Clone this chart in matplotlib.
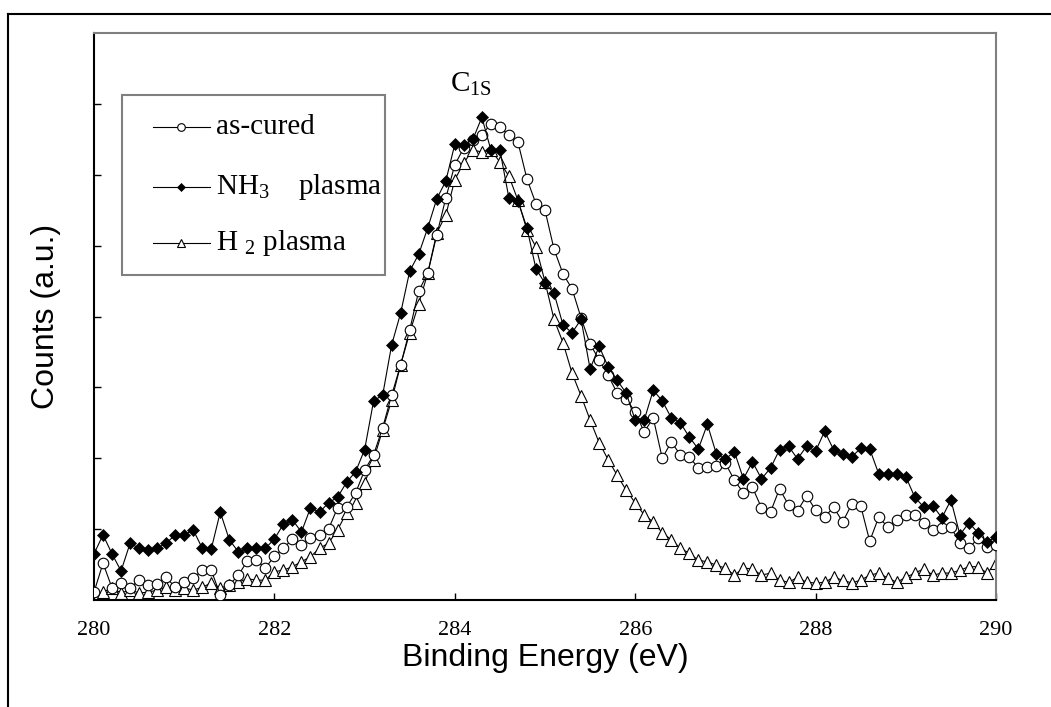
import numpy as np
import matplotlib
matplotlib.use("Agg")
import matplotlib.pyplot as plt
from matplotlib.lines import Line2D
from matplotlib.patches import Rectangle

plt.rcParams['mathtext.fontset'] = 'custom'
plt.rcParams['mathtext.rm'] = 'Liberation Serif'
plt.rcParams['mathtext.it'] = 'Liberation Serif'

# Binding energy grid (eV)
energy = [round(280.0 + 0.1 * i, 1) for i in range(101)]

as_cured = [
    0.11, 0.52, 0.17, 0.24, 0.17, 0.28, 0.21, 0.23, 0.32, 0.18,
    0.25, 0.31, 0.42, 0.42, 0.07, 0.21, 0.35, 0.55, 0.56, 0.45,
    0.62, 0.73, 0.86, 0.78, 0.87, 0.92, 1.00, 1.30, 1.31, 1.51,
    1.83, 2.05, 2.43, 2.89, 3.32, 3.81, 4.36, 4.61, 5.15, 5.67,
    6.14, 6.38, 6.49, 6.56, 6.72, 6.67, 6.56, 6.46, 5.94, 5.59,
    5.50, 4.95, 4.60, 4.39, 3.98, 3.61, 3.39, 3.17, 2.92, 2.84,
    2.65, 2.37, 2.57, 2.00, 2.23, 2.05, 2.02, 1.86, 1.88, 1.89,
    1.93, 1.69, 1.51, 1.59, 1.30, 1.24, 1.57, 1.34, 1.26, 1.47,
    1.27, 1.17, 1.31, 1.10, 1.35, 1.33, 0.83, 1.17, 1.03, 1.13,
    1.20, 1.20, 1.09, 0.99, 1.02, 1.03, 0.80, 0.73, 0.87, 0.75,
    0.78,
]

nh3_plasma = [
    0.65, 0.92, 0.65, 0.41, 0.80, 0.73, 0.71, 0.73, 0.80, 0.92,
    0.92, 0.99, 0.73, 0.72, 1.24, 0.85, 0.68, 0.73, 0.73, 0.73,
    0.86, 1.07, 1.13, 0.96, 1.30, 1.24, 1.37, 1.45, 1.66, 1.81,
    2.12, 2.81, 2.89, 3.60, 4.05, 4.64, 4.88, 5.25, 5.66, 5.91,
    6.43, 6.42, 6.50, 6.81, 6.35, 6.35, 5.67, 5.63, 5.25, 4.67,
    4.47, 4.33, 3.88, 3.77, 3.96, 3.26, 3.58, 3.29, 3.10, 2.92,
    2.54, 2.54, 2.96, 2.81, 2.57, 2.50, 2.30, 2.13, 2.48, 2.06,
    1.99, 2.09, 1.71, 1.95, 1.71, 1.86, 2.12, 2.17, 1.99, 2.17,
    2.10, 2.38, 2.12, 2.06, 2.02, 2.14, 2.13, 1.78, 1.78, 1.78,
    1.74, 1.45, 1.31, 1.33, 1.16, 1.41, 0.92, 1.09, 0.95, 0.82,
    0.89,
]

h2_plasma = [
    0.07, 0.11, 0.17, 0.10, 0.14, 0.10, 0.11, 0.14, 0.18, 0.14,
    0.17, 0.14, 0.18, 0.24, 0.17, 0.21, 0.25, 0.30, 0.28, 0.28,
    0.40, 0.42, 0.47, 0.54, 0.61, 0.73, 0.80, 0.99, 1.23, 1.37,
    1.65, 1.98, 2.40, 2.82, 3.32, 3.77, 4.18, 4.61, 5.18, 5.43,
    5.93, 6.17, 6.35, 6.32, 6.35, 6.18, 5.98, 5.64, 5.22, 4.98,
    4.49, 3.96, 3.63, 3.20, 2.88, 2.54, 2.22, 1.98, 1.76, 1.55,
    1.37, 1.20, 1.10, 0.95, 0.85, 0.73, 0.66, 0.56, 0.54, 0.49,
    0.45, 0.35, 0.45, 0.44, 0.35, 0.38, 0.28, 0.25, 0.32, 0.25,
    0.24, 0.25, 0.32, 0.28, 0.24, 0.28, 0.35, 0.38, 0.31, 0.25,
    0.32, 0.38, 0.44, 0.35, 0.38, 0.38, 0.42, 0.47, 0.47, 0.38,
    0.52,
]

series_labels = ['as-cured', r'NH$_3$    plasma', r'H $_2$ plasma']
x_ticks = [280, 282, 284, 286, 288, 290]
y_ticks = [1, 2, 3, 4, 5, 6, 7]

W, H = 1051, 707
fig = plt.figure(figsize=(W / 100, H / 100), dpi=100)
fig.patch.set_facecolor('white')

# outer frame (top and left visible)
fig.add_artist(Line2D([8 / W, 1.0], [1 - 14 / H, 1 - 14 / H], color='black', lw=1.5,
                      transform=fig.transFigure))
fig.add_artist(Line2D([8 / W, 8 / W], [0.0, 1 - 14 / H], color='black', lw=1.5,
                      transform=fig.transFigure))

ax = fig.add_axes([94 / W, 1 - 600 / H, (996 - 94) / W, (600 - 33) / H])

lw = 0.8
styles = [
    dict(marker='o', ms=7.6, mfc='white', mec='black', mew=0.8),
    dict(marker='D', ms=6.2, mfc='black', mec='black', mew=0.5),
    dict(marker='^', ms=8.4, mfc='white', mec='black', mew=0.8),
]
ax.plot(energy, as_cured, color='black', lw=lw, zorder=3, **styles[0])
ax.plot(energy, nh3_plasma, color='black', lw=lw, zorder=4, **styles[1])
ax.plot(energy, h2_plasma, color='black', lw=lw, zorder=2, **styles[2])

ax.set_xlim(280, 290)
ax.set_ylim(0, 8)
ax.set_xticks(x_ticks)
ax.set_xticklabels([str(t) for t in x_ticks], fontfamily='Liberation Serif', fontsize=16)
ax.set_yticks(y_ticks)
ax.set_yticklabels([])
ax.tick_params(axis='both', direction='in', length=5, width=1, color='black')
ax.tick_params(axis='x', pad=15)

for side in ['top', 'right']:
    ax.spines[side].set_color('#808080')
    ax.spines[side].set_linewidth(1.5)
for side in ['left', 'bottom']:
    ax.spines[side].set_color('black')
    ax.spines[side].set_linewidth(1.5)

ax.set_xlabel('Binding Energy (eV)', fontfamily='Liberation Sans', fontsize=23, labelpad=2)
ax.set_ylabel('Counts (a.u.)', fontfamily='Liberation Sans', fontsize=23, labelpad=20)

ax.text(284.18, 7.27, r'C$_{1S}$', fontfamily='Liberation Serif', fontsize=21,
        ha='center', va='center')

# legend drawn in figure pixel coordinates
def fx(px):
    return px / W

def fy(py):
    return 1 - py / H

fig.add_artist(Rectangle((fx(122), fy(275)), fx(385) - fx(122), fy(95) - fy(275),
                         transform=fig.transFigure, facecolor='white',
                         edgecolor='#808080', lw=1.5, zorder=5))
row_y = [127, 187, 243]
leg_styles = [
    dict(marker='o', ms=5.5, mfc='white', mec='black', mew=0.8),
    dict(marker='D', ms=4.5, mfc='black', mec='black', mew=0.5),
    dict(marker='^', ms=6.0, mfc='white', mec='black', mew=0.8),
]
for ry, lab, st in zip(row_y, series_labels, leg_styles):
    fig.add_artist(Line2D([fx(153), fx(210)], [fy(ry), fy(ry)], color='black', lw=lw,
                          transform=fig.transFigure, zorder=6))
    fig.add_artist(Line2D([fx(181)], [fy(ry)], color='black', lw=0,
                          transform=fig.transFigure, zorder=7, **st))
    fig.text(fx(216), fy(ry), lab, fontfamily='Liberation Serif', fontsize=21,
             ha='left', va='center', zorder=7)

fig.savefig('out.png', dpi=100)
